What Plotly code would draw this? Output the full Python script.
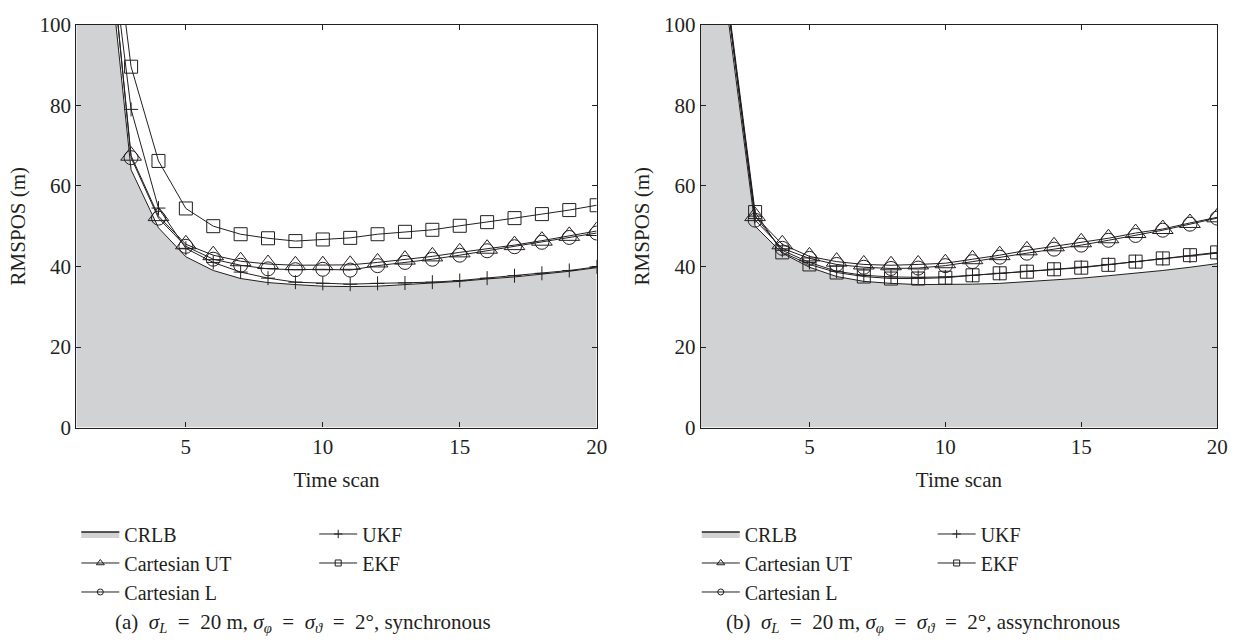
import plotly.graph_objects as go

scan = list(range(1, 21))

# (a) synchronous
crlb_a = [400, 129, 64.0, 49.6, 42.4, 39.0, 37.0, 36.0, 35.5, 35.1, 35.0, 35.1, 35.5, 35.9, 36.3, 36.9, 37.4, 38.1, 38.8, 39.7]
ut_a = [400, 136, 67.5, 52.5, 45.5, 42.8, 41.3, 40.6, 40.3, 40.3, 40.4, 41.0, 41.7, 42.5, 43.5, 44.4, 45.3, 46.4, 47.6, 48.8]
l_a = [400, 136, 67.0, 52.0, 45.0, 41.8, 40.3, 39.4, 39.2, 39.3, 39.1, 40.2, 41.0, 41.8, 42.8, 43.9, 44.9, 46.0, 47.2, 48.3]
ukf_a = [400, 134, 79.0, 54.5, 44.5, 41.0, 38.6, 37.1, 36.1, 35.8, 35.6, 35.8, 35.9, 36.1, 36.5, 37.1, 37.7, 38.3, 39.0, 39.9]
ekf_a = [400, 144, 89.6, 66.2, 54.4, 50.0, 48.0, 47.0, 46.3, 46.7, 47.1, 48.0, 48.6, 49.1, 50.1, 51.0, 52.0, 53.0, 54.0, 55.2]

# (b) asynchronous
crlb_b = [400, 102, 50.0, 43.3, 39.8, 37.5, 36.3, 35.8, 35.5, 35.5, 35.6, 35.8, 36.2, 36.6, 37.1, 37.7, 38.3, 39.0, 39.8, 40.7]
ut_b = [400, 105, 52.5, 45.5, 42.5, 41.2, 40.5, 40.3, 40.5, 40.8, 41.8, 42.8, 44.0, 45.0, 46.0, 47.0, 48.3, 49.3, 50.8, 52.2]
l_b = [400, 105, 51.5, 44.5, 42.0, 40.5, 39.8, 39.5, 39.6, 40.2, 41.2, 42.3, 43.3, 44.3, 45.3, 46.5, 47.7, 49.0, 50.5, 52.0]
ukf_b = [400, 105, 52.5, 44.0, 41.0, 38.8, 37.8, 37.4, 37.3, 37.4, 37.8, 38.3, 38.8, 39.3, 39.8, 40.5, 41.2, 41.9, 42.6, 43.3]
ekf_b = [400, 106, 53.5, 43.5, 40.5, 38.5, 37.5, 37.0, 37.0, 37.2, 37.8, 38.3, 38.7, 39.3, 39.7, 40.4, 41.2, 42.0, 42.8, 43.5]

x_ticks = [5, 10, 15, 20]
y_ticks = [0, 20, 40, 60, 80, 100]

SP = "\u2002"
captions = [
    "(a)" + SP + "<i>σ</i><sub><i>L</i></sub>" + SP + "=" + SP + "20 m, <i>σ</i><sub><i>φ</i></sub>" + SP + "=" + SP
    + "<i>σ</i><sub><i>ϑ</i></sub>" + SP + "=" + SP + "2°, synchronous",
    "(b)" + SP + "<i>σ</i><sub><i>L</i></sub>" + SP + "=" + SP + "20 m, <i>σ</i><sub><i>φ</i></sub>" + SP + "=" + SP
    + "<i>σ</i><sub><i>ϑ</i></sub>" + SP + "=" + SP + "2°, assynchronous",
]

INK = "#231f20"
GRAY = "#d1d2d4"
FONT = "Liberation Serif, Times New Roman, serif"
FS = 21

fig = go.Figure()

# name, symbol, plot size, legend size
series = [
    ("Cartesian UT", "triangle-up-open", 18, 7),
    ("Cartesian L", "circle-open", 14, 6),
    ("UKF", "cross-thin-open", 10, 6),
    ("EKF", "square-open", 13, 6),
]

panels = [
    ("x", "y", crlb_a, [ut_a, l_a, ukf_a, ekf_a], "legend", "legend2"),
    ("x2", "y2", crlb_b, [ut_b, l_b, ukf_b, ekf_b], "legend3", "legend4"),
]

for xa, ya, crlb, vals, lg1, lg2 in panels:
    fig.add_trace(go.Scatter(x=scan, y=crlb, mode="lines", fill="tozeroy",
                             fillcolor=GRAY, line=dict(color=INK, width=1),
                             xaxis=xa, yaxis=ya, showlegend=False))
    for (name, sym, size, lsize), v in zip(series, vals):
        fig.add_trace(go.Scatter(x=scan, y=v, mode="lines+markers",
                                 line=dict(color=INK, width=1),
                                 marker=dict(symbol=sym, size=size, color=INK,
                                             line=dict(color=INK, width=1)),
                                 xaxis=xa, yaxis=ya, showlegend=False))
    # legend entries
    fig.add_trace(go.Scatter(x=[None], y=[None], mode="lines", fill="tozeroy",
                             fillcolor=GRAY, line=dict(color=INK, width=1.5),
                             name="CRLB", xaxis=xa, yaxis=ya, legend=lg1))
    for (name, sym, size, lsize) in series:
        lg = lg1 if name.startswith("Cartesian") else lg2
        fig.add_trace(go.Scatter(x=[None], y=[None], mode="lines+markers",
                                 line=dict(color=INK, width=1),
                                 marker=dict(symbol=sym, size=lsize, color=INK,
                                             line=dict(color=INK, width=1)),
                                 name=name, xaxis=xa, yaxis=ya, legend=lg))

W, H = 1242, 642
ydom = [(H - 431.7) / H, (H - 13.3) / H]
xdoms = [[77 / W, 602 / W], [707 / W, 1228 / W]]

axis_common = dict(showgrid=False, zeroline=False, showline=True, linecolor=INK,
                   linewidth=1.2, mirror="ticks", ticks="inside", ticklen=5,
                   tickcolor=INK, tickwidth=1,
                   tickfont=dict(family=FONT, size=FS, color=INK))

layout = dict(
    width=W, height=H,
    margin=dict(l=0, r=0, t=0, b=0),
    paper_bgcolor="white", plot_bgcolor="white",
    font=dict(family=FONT, size=FS, color=INK),
    showlegend=True,
)
for i, suf in enumerate(["", "2"]):
    layout["xaxis" + suf] = dict(axis_common, domain=xdoms[i], range=[1, 20],
                                 tickvals=x_ticks, anchor="y" + suf,
                                 title=dict(text="Time scan", standoff=14,
                                            font=dict(family=FONT, size=FS, color=INK)))
    layout["yaxis" + suf] = dict(axis_common, domain=ydom, range=[0, 100],
                                 tickvals=y_ticks, anchor="x" + suf,
                                 title=dict(text="RMSPOS (m)", standoff=8,
                                            font=dict(family=FONT, size=FS, color=INK)))

leg_y = (H - 522) / H
leg_common = dict(yanchor="top", xanchor="left", y=leg_y, bgcolor="rgba(0,0,0,0)",
                  font=dict(family=FONT, size=20, color=INK), tracegroupgap=0,
                  borderwidth=0, orientation="v", itemwidth=38)
layout["legend"] = dict(leg_common, x=77 / W)
layout["legend2"] = dict(leg_common, x=317 / W)
layout["legend3"] = dict(leg_common, x=703 / W)
layout["legend4"] = dict(leg_common, x=941 / W)

cap_y = (H - 650) / H
layout["annotations"] = [
    dict(text=captions[0], x=306 / W, y=cap_y, xref="paper", yref="paper",
         xanchor="center", yanchor="bottom", showarrow=False,
         font=dict(family=FONT, size=FS, color=INK)),
    dict(text=captions[1], x=931 / W, y=cap_y, xref="paper", yref="paper",
         xanchor="center", yanchor="bottom", showarrow=False,
         font=dict(family=FONT, size=FS, color=INK)),
]

fig.update_layout(**layout)
fig.write_html("out.html")
